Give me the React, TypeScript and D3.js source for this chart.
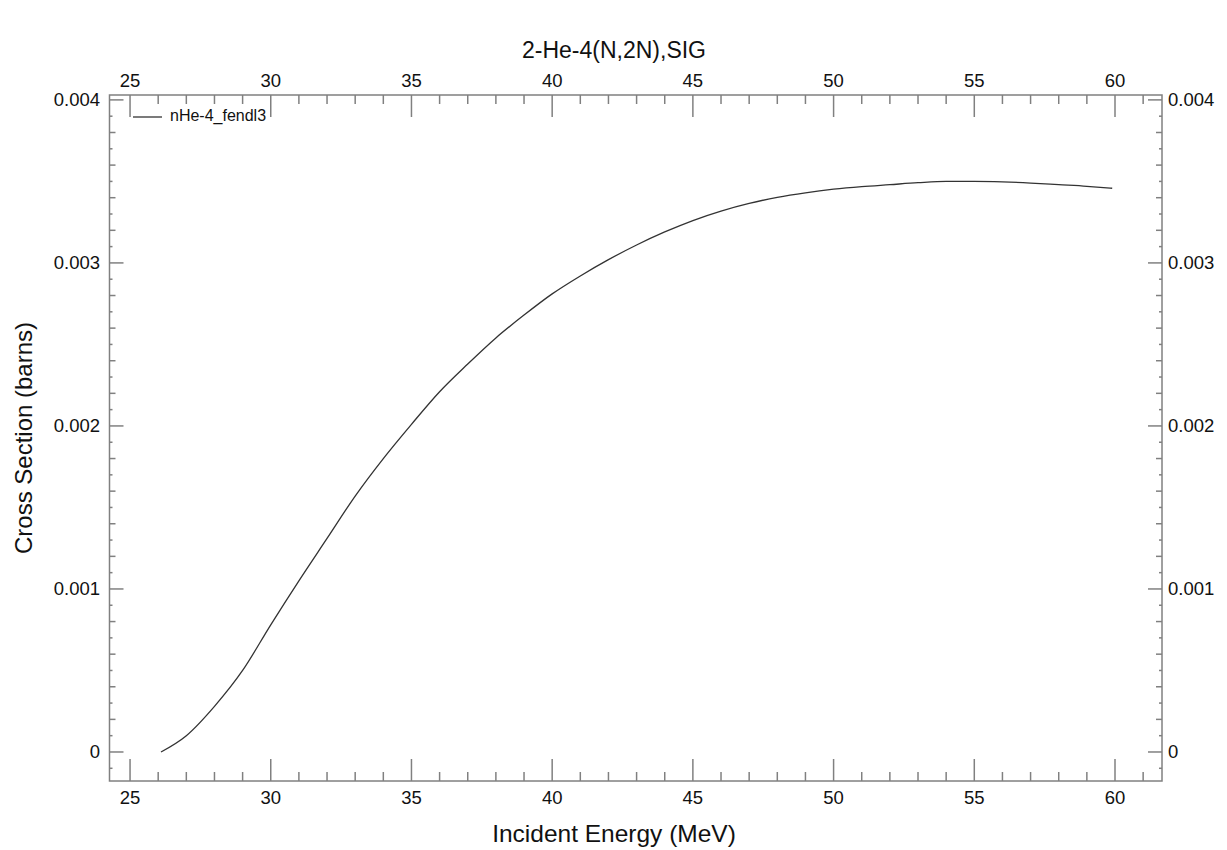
import React from "react";
import * as d3 from "d3";

const title = "2-He-4(N,2N),SIG";
const xTitle = "Incident Energy (MeV)";
const yTitle = "Cross Section (barns)";
const seriesName = "nHe-4_fendl3";

const energies = [26.1, 27, 28, 29, 30, 31, 32, 33, 34, 35, 36, 37, 38, 39, 40, 41, 42, 43, 44, 45, 46, 47, 48, 49, 50, 51, 52, 53, 54, 55, 56, 57, 58, 59, 59.9];
const sigma = [0, 0.0001, 0.00028, 0.0005, 0.00078, 0.00105, 0.00131, 0.00157, 0.0018, 0.00201, 0.00221, 0.00238, 0.00254, 0.00268, 0.00281, 0.00292, 0.00302, 0.00311, 0.00319, 0.00326, 0.003318, 0.003365, 0.003402, 0.00343, 0.003452, 0.003468, 0.00348, 0.003492, 0.0035, 0.0035, 0.003497, 0.00349, 0.00348, 0.00347, 0.003458];

const xMajor = [25, 30, 35, 40, 45, 50, 55, 60];
const xMinor = [26, 27, 28, 29, 31, 32, 33, 34, 36, 37, 38, 39, 41, 42, 43, 44, 46, 47, 48, 49, 51, 52, 53, 54, 56, 57, 58, 59, 61];
const yMajor = [0, 0.001, 0.002, 0.003, 0.004];
const yMajorLabels = ["0", "0.001", "0.002", "0.003", "0.004"];

const W = 1227, H = 850;
const L = 109.5, R = 1162, T = 95, B = 781;
const FONT = "'Liberation Sans', Arial, sans-serif";
const AX = "#808080";

export default function App() {
  const x = d3.scaleLinear().domain([24.27, 61.67]).range([L, R]);
  const y = d3.scaleLinear().domain([-0.000178, 0.00403]).range([B, T]);
  const yMinor: number[] = [];
  for (let i = -1; i <= 40; i++) if (i % 10 !== 0) yMinor.push(i);
  const data = energies.map((e, i) => [e, sigma[i]] as [number, number]);
  const line = d3.line<[number, number]>().x(d => x(d[0])).y(d => y(d[1])).curve(d3.curveMonotoneX);

  return (
    <svg width={W} height={H} style={{ position: "absolute", left: 0, top: 0, background: "#fff" }} fontFamily={FONT}>
      <rect x={0} y={0} width={W} height={H} fill="#fff" />
      <text x={614} y={58} textAnchor="middle" fontSize={23} fill="#111">{title}</text>
      {/* frame */}
      <rect x={L} y={T} width={R - L} height={B - T} fill="none" stroke={AX} strokeWidth={1.5} />
      {/* x ticks */}
      {xMajor.map(v => (
        <g key={"xm" + v}>
          <line x1={x(v)} x2={x(v)} y1={B} y2={B - 22} stroke={AX} strokeWidth={1.5} />
          <line x1={x(v)} x2={x(v)} y1={T} y2={T + 22} stroke={AX} strokeWidth={1.5} />
          <text x={x(v)} y={804} textAnchor="middle" fontSize={18.5} fill="#111">{v}</text>
          <text x={x(v)} y={87} textAnchor="middle" fontSize={18.5} fill="#111">{v}</text>
        </g>
      ))}
      {xMinor.map(v => (
        <g key={"xn" + v}>
          <line x1={x(v)} x2={x(v)} y1={B} y2={B - 9} stroke={AX} strokeWidth={1.5} />
          <line x1={x(v)} x2={x(v)} y1={T} y2={T + 9} stroke={AX} strokeWidth={1.5} />
        </g>
      ))}
      {/* y ticks */}
      {yMajor.map((v, i) => (
        <g key={"ym" + v}>
          <line x1={L} x2={L + 14} y1={y(v)} y2={y(v)} stroke={AX} strokeWidth={1.5} />
          <line x1={R} x2={R - 14} y1={y(v)} y2={y(v)} stroke={AX} strokeWidth={1.5} />
          <text x={100} y={y(v) + 6} textAnchor="end" fontSize={18.5} fill="#111">{yMajorLabels[i]}</text>
          <text x={1168} y={y(v) + 6} textAnchor="start" fontSize={18.5} fill="#111">{yMajorLabels[i]}</text>
        </g>
      ))}
      {yMinor.map(i => {
        const v = i * 0.0001;
        const len = i % 2 === 0 ? 6 : 3;
        return (
          <g key={"yn" + i}>
            <line x1={L} x2={L + len} y1={y(v)} y2={y(v)} stroke={AX} strokeWidth={1.5} />
            <line x1={R} x2={R - len} y1={y(v)} y2={y(v)} stroke={AX} strokeWidth={1.5} />
          </g>
        );
      })}
      {/* curve */}
      <path d={line(data) || ""} fill="none" stroke="#333" strokeWidth={1.3} />
      {/* legend */}
      <line x1={133} x2={162} y1={117} y2={117} stroke="#333" strokeWidth={1.3} />
      <text x={170} y={121} fontSize={16} fill="#111">{seriesName}</text>
      {/* axis titles */}
      <text x={614} y={842} textAnchor="middle" fontSize={24.5} fill="#111">{xTitle}</text>
      <text transform={`translate(32,438) rotate(-90)`} textAnchor="middle" fontSize={24} fill="#111">{yTitle}</text>
    </svg>
  );
}
